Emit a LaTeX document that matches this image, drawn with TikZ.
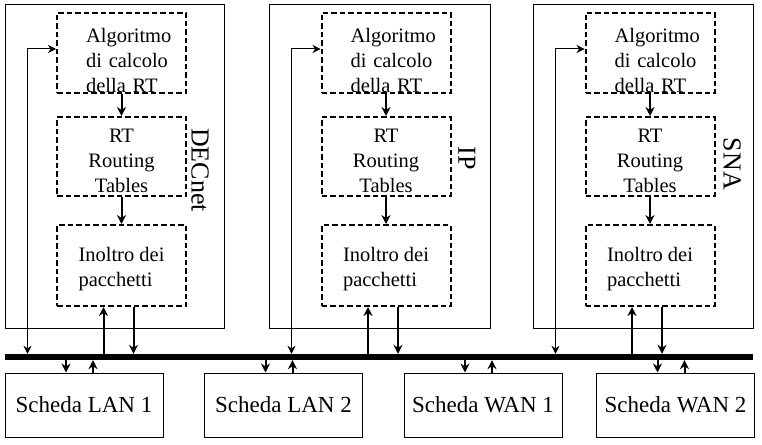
\documentclass[tikz,border=0pt]{standalone}
\usepackage{fontspec}
\setmainfont{Liberation Serif}
\usetikzlibrary{arrows.meta}

\begin{document}
\begin{tikzpicture}[x=1pt, y=-1pt,
    proto/.style={draw, line width=1pt, minimum height=323pt, inner sep=0pt},
    protoname/.style={rotate=-90, inner sep=0pt, font=\fontsize{26pt}{30pt}\selectfont},
    modbox/.style={draw, dash pattern=on 5.5pt off 3pt, line width=2pt, minimum width=129pt, inner sep=0pt, font=\fontsize{20.5pt}{25pt}\selectfont},
    card/.style={draw, line width=1pt, minimum width=158pt, minimum height=64pt, font=\fontsize{23pt}{27pt}\selectfont},
    flow/.style={-{Stealth[length=9pt, width=9pt, inset=3pt]}, line width=2pt},
    fb/.style={{Stealth[length=8pt, width=8pt, inset=2.5pt]}-{Stealth[length=8pt, width=8pt, inset=2.5pt]}, line width=1pt}]
  \useasboundingbox (0,0) rectangle (762,444);

  % DECnet
  \node[proto, minimum width=219pt] (dec) at (114.5,166.5) {};
  \node[protoname] (decname) at (200,170) {DECnet};
  \node[modbox, minimum height=80pt, align=left, text width=71pt] (a1) at (121.5,53) {\rule{0pt}{29pt}\mbox{Algoritmo}\\\mbox{di calcolo}\\\mbox{della RT}};
  \node[modbox, minimum height=79pt, align=center] (r1) at (121.5,156.5) {\rule{0pt}{22pt}RT\\Routing\\Tables};
  \node[modbox, minimum height=81pt, align=left] (i1) at (121.5,265.5) {\rule{0pt}{22pt}Inoltro dei\\pacchetti};

  % IP
  \node[proto, minimum width=221pt] (ip) at (379.5,166.5) {};
  \node[protoname] (ipname) at (467,158) {IP};
  \node[modbox, minimum height=80pt, align=left, text width=71pt] (a2) at (386,53) {\rule{0pt}{29pt}\mbox{Algoritmo}\\\mbox{di calcolo}\\\mbox{della RT}};
  \node[modbox, minimum height=79pt, align=center] (r2) at (386,156.5) {\rule{0pt}{22pt}RT\\Routing\\Tables};
  \node[modbox, minimum height=81pt, align=left] (i2) at (386,265.5) {\rule{0pt}{22pt}Inoltro dei\\pacchetti};

  % SNA
  \node[proto, minimum width=220pt] (sna) at (643,166.5) {};
  \node[protoname] (snaname) at (732,164) {SNA};
  \node[modbox, minimum height=80pt, align=left, text width=71pt] (a3) at (650,53) {\rule{0pt}{29pt}\mbox{Algoritmo}\\\mbox{di calcolo}\\\mbox{della RT}};
  \node[modbox, minimum height=79pt, align=center] (r3) at (650,156.5) {\rule{0pt}{22pt}RT\\Routing\\Tables};
  \node[modbox, minimum height=81pt, align=left] (i3) at (650,265.5) {\rule{0pt}{22pt}Inoltro dei\\pacchetti};

  % bus and cards
  \node[fill, inner sep=0pt, minimum width=748pt, minimum height=6pt] (bus) at (379,357) {};
  \node[card] (lan1) at (84,405) {Scheda LAN 1};
  \node[card] (lan2) at (283.5,405) {Scheda LAN 2};
  \node[card] (wan1) at (483,405) {Scheda WAN 1};
  \node[card] (wan2) at (675.5,405) {Scheda WAN 2};

  \draw[flow] (a1) -- (r1);
  \draw[flow] (r1) -- (i1);
  \draw[flow] ([xshift=-18pt]i1.south |- bus.north) -- ([xshift=-18pt]i1.south);
  \draw[flow] ([xshift=12pt]i1.south) -- ([xshift=12pt]i1.south |- bus.north);
  \draw[fb] ([xshift=23pt]dec.west |- bus.north) |- ([yshift=4pt]a1.west);

  \draw[flow] (a2) -- (r2);
  \draw[flow] (r2) -- (i2);
  \draw[flow] ([xshift=-18pt]i2.south |- bus.north) -- ([xshift=-18pt]i2.south);
  \draw[flow] ([xshift=12pt]i2.south) -- ([xshift=12pt]i2.south |- bus.north);
  \draw[fb] ([xshift=23pt]ip.west |- bus.north) |- ([yshift=4pt]a2.west);

  \draw[flow] (a3) -- (r3);
  \draw[flow] (r3) -- (i3);
  \draw[flow] ([xshift=-18pt]i3.south |- bus.north) -- ([xshift=-18pt]i3.south);
  \draw[flow] ([xshift=12pt]i3.south) -- ([xshift=12pt]i3.south |- bus.north);
  \draw[fb] ([xshift=23pt]sna.west |- bus.north) |- ([yshift=4pt]a3.west);

  \draw[flow] ([xshift=-18pt]lan1.north |- bus.south) -- ([xshift=-18pt]lan1.north);
  \draw[flow] ([xshift=9pt]lan1.north) -- ([xshift=9pt]lan1.north |- bus.south);
  \draw[flow] ([xshift=-18pt]lan2.north |- bus.south) -- ([xshift=-18pt]lan2.north);
  \draw[flow] ([xshift=9pt]lan2.north) -- ([xshift=9pt]lan2.north |- bus.south);
  \draw[flow] ([xshift=-18pt]wan1.north |- bus.south) -- ([xshift=-18pt]wan1.north);
  \draw[flow] ([xshift=9pt]wan1.north) -- ([xshift=9pt]wan1.north |- bus.south);
  \draw[flow] ([xshift=-18pt]wan2.north |- bus.south) -- ([xshift=-18pt]wan2.north);
  \draw[flow] ([xshift=9pt]wan2.north) -- ([xshift=9pt]wan2.north |- bus.south);
\end{tikzpicture}
\end{document}
